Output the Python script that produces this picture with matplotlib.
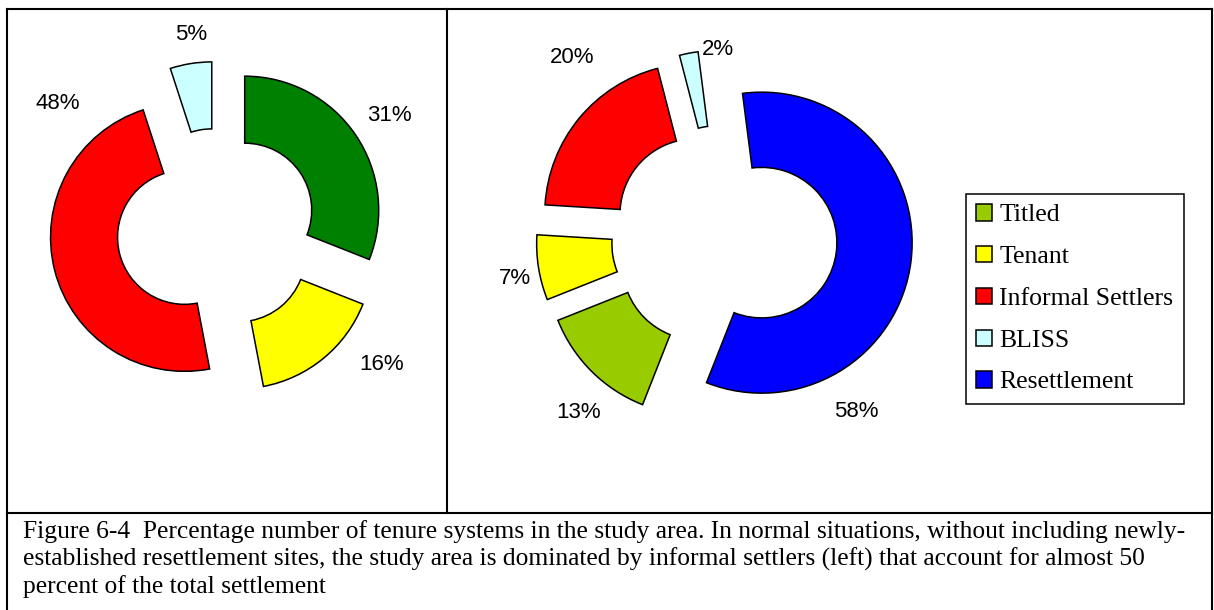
import matplotlib
matplotlib.use("Agg")
import matplotlib.pyplot as plt
import numpy as np

# ------------------------------------------------ data ------------------------------------------------
left_labels = ["Titled", "Tenant", "Informal Settlers", "BLISS"]
left_values = [31, 16, 48, 5]
left_colors = ["#008000", "#FFFF00", "#FF0000", "#CCFFFF"]

right_labels = ["Titled", "Tenant", "Informal Settlers", "BLISS", "Resettlement"]
right_values = [13, 7, 20, 2, 58]
right_colors = ["#99CC00", "#FFFF00", "#FF0000", "#CCFFFF", "#0000FF"]

caption_lines = [
    "Figure 6-4  Percentage number of tenure systems in the study area. In normal situations, without including newly-",
    "established resettlement sites, the study area is dominated by informal settlers (left) that account for almost 50",
    "percent of the total settlement",
]

# label spots (pie radius units, from the pie centre) - placed by hand like the excel original
left_lab_xy = [(1.29, 0.85), (1.23, -1.01), (-1.19, 0.94), (-0.19, 1.45)]
right_lab_xy = [(-0.97, -1.16), (-1.39, -0.27), (-1.01, 1.20), (-0.04, 1.25), (0.88, -1.15)]

# ------------------------------------------------ figure ------------------------------------------------
W, H = 1214, 610
fig = plt.figure(figsize=(W / 100, H / 100), dpi=100)

# frame / table lines in pixel coords
bg = fig.add_axes([0, 0, 1, 1])
bg.set_xlim(0, W)
bg.set_ylim(H, 0)
bg.axis("off")
lw = 1.5
bg.plot([7, 1212], [9, 9], color="black", lw=lw)
bg.plot([7, 7], [9, H], color="black", lw=lw)
bg.plot([1212, 1212], [9, H], color="black", lw=lw)
bg.plot([447, 447], [9, 513], color="black", lw=lw)
bg.plot([7, 1212], [513, 513], color="black", lw=lw)


def pie_axes(cx, cy, rpx, lim=1.5):
    half = rpx * lim
    ax = fig.add_axes([(cx - half) / W, (H - cy - half) / H, 2 * half / W, 2 * half / H])
    return ax


wedge_kw = dict(width=0.5, edgecolor="black", linewidth=1.1)

# left donut
axL = pie_axes(217, 229, 134)
axL.pie(left_values, colors=left_colors, startangle=90, counterclock=False,
        explode=[0.25] * len(left_values), wedgeprops=wedge_kw)
for (x, y), v in zip(left_lab_xy, left_values):
    axL.text(x, y, f"{v}%", ha="center", va="center", fontsize=16, family="Liberation Sans")
axL.set_xlim(-1.5, 1.5)
axL.set_ylim(-1.5, 1.5)
axL.set_aspect("equal")
axL.axis("off")

# right donut (rotated a little, blue starts just past 12 o'clock)
rot = 7.3
start_r = 90 + rot - 360 * right_values[-1] / sum(right_values)
axR = pie_axes(724.3, 238, 150.5)
wedges, _ = axR.pie(right_values, colors=right_colors, startangle=start_r, counterclock=False,
                    explode=[0.25] * len(right_values), wedgeprops=wedge_kw)
for (x, y), v in zip(right_lab_xy, right_values):
    axR.text(x, y, f"{v}%", ha="center", va="center", fontsize=16, family="Liberation Sans")
axR.set_xlim(-1.5, 1.5)
axR.set_ylim(-1.5, 1.5)
axR.set_aspect("equal")
axR.axis("off")

leg = fig.legend(wedges, right_labels, loc="upper left", bbox_to_anchor=(966 / W, 1 - 194 / H),
                 prop={"family": "Liberation Serif", "size": 18.5}, frameon=True, fancybox=False,
                 edgecolor="black", framealpha=1, handlelength=0.6, handleheight=0.6,
                 handletextpad=0.3, labelspacing=0.76, borderpad=0.4, borderaxespad=0)
leg.get_frame().set_linewidth(1.1)

# caption
for i, line in enumerate(caption_lines):
    fig.text(22.7 / W, 1 - (538.3 + 27.4 * i) / H, line, ha="left", va="baseline",
             fontsize=18.4, family="Liberation Serif")

fig.savefig("out.png", dpi=100)
